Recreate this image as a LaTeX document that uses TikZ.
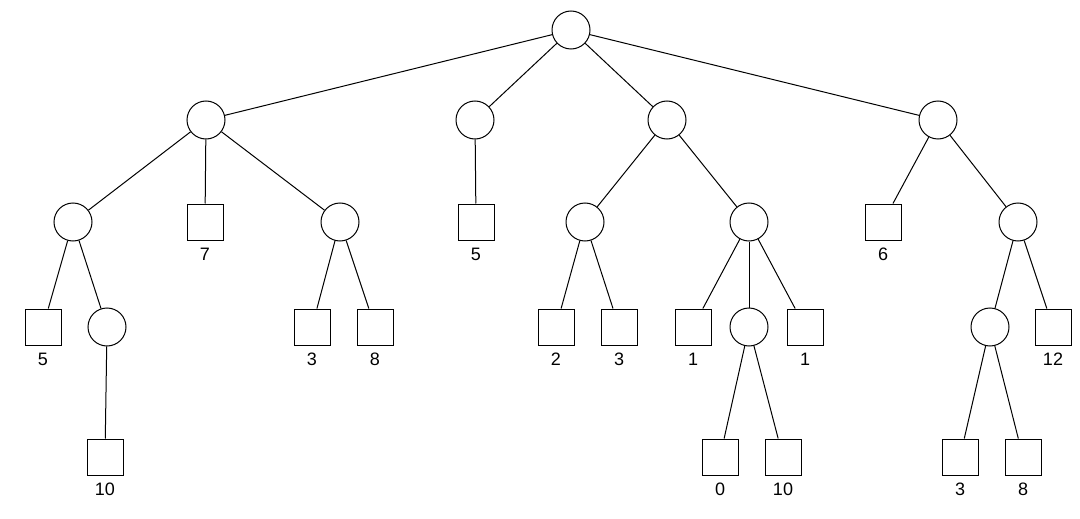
\documentclass[tikz,border=0pt]{standalone}
\usepackage{fontspec}
\setmainfont{Liberation Sans}
\begin{document}
\begin{tikzpicture}[x=1pt,y=-1pt,
 c/.style={circle,draw,line width=1pt,minimum size=38pt,inner sep=0pt},
 s/.style={rectangle,draw,line width=1pt,minimum size=36pt,inner sep=0pt,label={[font=\fontsize{18}{20}\selectfont,label distance=4pt]below:#1}},
 every path/.style={line width=1pt}]
\useasboundingbox (0,0) rectangle (1080,519);
\node[c] (r) at (571,30) {};
\node[c] (A) at (206,120) {};
\node[c] (B) at (475,120) {};
\node[c] (C) at (667,120) {};
\node[c] (D) at (938,120) {};
\node[c] (A1) at (73,222) {};
\node[s=7] (A2) at (205,222) {};
\node[c] (A3) at (340,222) {};
\node[s=5] (A11) at (43,327) {};
\node[c] (A12) at (107,327) {};
\node[s=10] (A121) at (105,457) {};
\node[s=3] (A31) at (312,327) {};
\node[s=8] (A32) at (375,327) {};
\node[s=5] (B1) at (476,222) {};
\node[c] (C1) at (585,222) {};
\node[c] (C2) at (749,222) {};
\node[s=2] (C11) at (556,327) {};
\node[s=3] (C12) at (619,327) {};
\node[s=1] (C21) at (693,327) {};
\node[c] (C22) at (749,327) {};
\node[s=1] (C23) at (805,327) {};
\node[s=0] (C221) at (720,457) {};
\node[s=10] (C222) at (783,457) {};
\node[s=6] (D1) at (883,222) {};
\node[c] (D2) at (1018,222) {};
\node[c] (D21) at (990,327) {};
\node[s=12] (D22) at (1053,327) {};
\node[s=3] (D211) at (960,457) {};
\node[s=8] (D212) at (1023,457) {};
\foreach \a/\b in {r/A,r/B,r/C,r/D,A/A1,A/A2,A/A3,A1/A11,A1/A12,A12/A121,A3/A31,A3/A32,B/B1,C/C1,C/C2,C1/C11,C1/C12,C2/C21,C2/C22,C2/C23,C22/C221,C22/C222,D/D1,D/D2,D2/D21,D2/D22,D21/D211,D21/D212}
 \draw (\a) -- (\b);
\end{tikzpicture}
\end{document}
